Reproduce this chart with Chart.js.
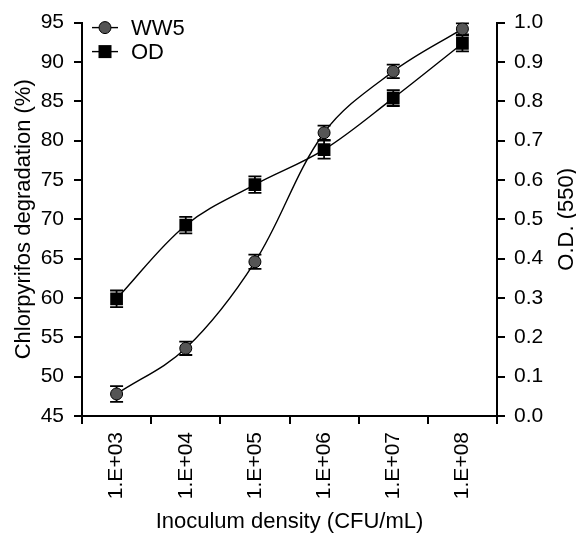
<!DOCTYPE html>
<html>
<head>
<meta charset="utf-8">
<script src="https://cdn.jsdelivr.net/npm/chart.js@4.4.1/dist/chart.umd.min.js"></script>
<style>
  html, body { margin: 0; padding: 0; background: #ffffff; }
  #wrap { width: 576px; height: 535px; position: relative; }
</style>
</head>
<body>
<div id="wrap"><canvas id="c" width="576" height="535"></canvas></div>
<script>
// ---- data ----
const categories = ['1.E+03', '1.E+04', '1.E+05', '1.E+06', '1.E+07', '1.E+08'];
const ww5Values = [47.8, 53.6, 64.6, 81.0, 88.8, 94.2];
const ww5Errors = [1.0, 0.85, 0.9, 0.9, 0.85, 0.7];
const odValues = [0.298, 0.485, 0.588, 0.677, 0.808, 0.947];
const odErrors = [0.021, 0.021, 0.021, 0.023, 0.02, 0.02];
const leftTicks = [45, 50, 55, 60, 65, 70, 75, 80, 85, 90, 95];
const rightTicks = [0.0, 0.1, 0.2, 0.3, 0.4, 0.5, 0.6, 0.7, 0.8, 0.9, 1.0];
const seriesNames = ['WW5', 'OD'];
const xTitle = 'Inoculum density (CFU/mL)';
const yLeftTitle = 'Chlorpyrifos degradation (%)';
const yRightTitle = 'O.D. (550)';

const FONT = "'Liberation Sans', Arial, sans-serif";
const WW5_FILL = '#555555';

const errorBars = {
  id: 'errorBars',
  beforeDatasetsDraw(chart) {
    const ctx = chart.ctx;
    const errs = [ww5Errors, odErrors];
    chart.data.datasets.forEach((ds, i) => {
      const meta = chart.getDatasetMeta(i);
      const ys = chart.scales[ds.yAxisID];
      ctx.save();
      ctx.strokeStyle = '#000';
      ctx.lineWidth = 1.8;
      meta.data.forEach((pt, j) => {
        const v = ds.data[j], e = errs[i][j];
        const y1 = ys.getPixelForValue(v + e);
        const y2 = ys.getPixelForValue(v - e);
        const x = pt.x, hw = 6.5;
        ctx.beginPath();
        ctx.moveTo(x, y1); ctx.lineTo(x, y2);
        ctx.moveTo(x - hw, y1); ctx.lineTo(x + hw, y1);
        ctx.moveTo(x - hw, y2); ctx.lineTo(x + hw, y2);
        ctx.stroke();
      });
      ctx.restore();
    });
  }
};

const customLegendAndTitle = {
  id: 'customLegendAndTitle',
  afterDraw(chart) {
    const ctx = chart.ctx;
    const ca = chart.chartArea;
    ctx.save();
    // legend
    const rows = [ca.top + 5, ca.top + 29];
    rows.forEach((y, i) => {
      const x0 = ca.left + 10, x1 = ca.left + 36, xm = ca.left + 23;
      ctx.strokeStyle = '#000';
      ctx.lineWidth = 1.4;
      ctx.beginPath(); ctx.moveTo(x0, y); ctx.lineTo(x1, y); ctx.stroke();
      if (i === 0) {
        ctx.beginPath(); ctx.arc(xm, y, 6, 0, Math.PI * 2);
        ctx.fillStyle = WW5_FILL; ctx.fill();
        ctx.lineWidth = 1; ctx.stroke();
      } else {
        ctx.fillStyle = '#000';
        ctx.fillRect(xm - 6.5, y - 6.5, 13, 13);
      }
      ctx.fillStyle = '#000';
      ctx.font = '22px ' + FONT;
      ctx.textBaseline = 'middle';
      ctx.textAlign = 'left';
      ctx.fillText(seriesNames[i], ca.left + 49, y + 1);
    });
    // right axis title (reads bottom-to-top)
    ctx.translate(567, (ca.top + ca.bottom) / 2);
    ctx.rotate(-Math.PI / 2);
    ctx.textAlign = 'center';
    ctx.textBaseline = 'middle';
    ctx.font = '22px ' + FONT;
    ctx.fillText(yRightTitle, 0, 0);
    ctx.restore();
  }
};

const commonTickFont = { family: FONT, size: 21 };

new Chart(document.getElementById('c'), {
  type: 'line',
  data: {
    labels: categories,
    datasets: [
      {
        label: seriesNames[0],
        data: ww5Values,
        yAxisID: 'y',
        borderColor: '#000',
        borderWidth: 1.4,
        tension: 0.35,
        pointStyle: 'circle',
        pointRadius: 6,
        pointBackgroundColor: WW5_FILL,
        pointBorderColor: '#000',
        pointBorderWidth: 1,
        fill: false
      },
      {
        label: seriesNames[1],
        data: odValues,
        yAxisID: 'y1',
        borderColor: '#000',
        borderWidth: 1.4,
        tension: 0.35,
        pointStyle: 'rect',
        pointRadius: 9,
        pointBackgroundColor: '#000',
        pointBorderColor: '#000',
        pointBorderWidth: 0,
        fill: false
      }
    ]
  },
  options: {
    responsive: false,
    animation: false,
    devicePixelRatio: 1,
    layout: { padding: { top: 20, left: 0, right: 0, bottom: 0 } },
    plugins: {
      legend: { display: false },
      tooltip: { enabled: false }
    },
    scales: {
      x: {
        type: 'category',
        offset: true,
        grid: { display: true, drawOnChartArea: false, drawTicks: true, tickLength: 8, color: '#000', lineWidth: 2, offset: true },
        border: { display: true, color: '#000', width: 2 },
        ticks: { color: '#000', font: commonTickFont, minRotation: 90, maxRotation: 90, padding: 8, autoSkip: false },
        title: { display: true, text: xTitle, color: '#000', font: { family: FONT, size: 22 }, padding: { top: 0, bottom: 0 } },
        afterFit(s) { s.height = 119; }
      },
      y: {
        type: 'linear',
        position: 'left',
        min: leftTicks[0],
        max: leftTicks[leftTicks.length - 1],
        afterBuildTicks(s) { s.ticks = leftTicks.map(v => ({ value: v })); },
        grid: { display: true, drawOnChartArea: false, drawTicks: true, tickLength: 8, color: '#000', lineWidth: 2 },
        border: { display: true, color: '#000', width: 2 },
        ticks: { color: '#000', font: commonTickFont, padding: 10, callback: v => String(v) },
        title: { display: true, text: yLeftTitle, color: '#000', font: { family: FONT, size: 22 }, padding: { top: 11, bottom: 0 } },
        afterFit(s) { s.width = 82; }
      },
      y1: {
        type: 'linear',
        position: 'right',
        min: rightTicks[0],
        max: rightTicks[rightTicks.length - 1],
        afterBuildTicks(s) { s.ticks = rightTicks.map(v => ({ value: v })); },
        grid: { display: true, drawOnChartArea: false, drawTicks: true, tickLength: 8, color: '#000', lineWidth: 2 },
        border: { display: true, color: '#000', width: 2 },
        ticks: { color: '#000', font: commonTickFont, padding: 9, callback: v => Number(v).toFixed(1) },
        afterFit(s) { s.width = 79; }
      }
    }
  },
  plugins: [errorBars, customLegendAndTitle]
});
</script>
</body>
</html>
